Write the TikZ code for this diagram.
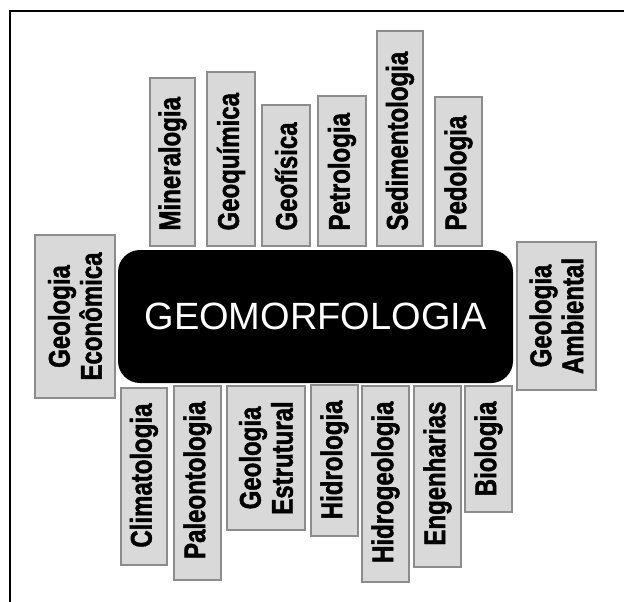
\documentclass[tikz,border=0pt]{standalone}
\usepackage{fontspec}
\setmainfont{Liberation Sans}
\newfontfamily\lblfont[FakeStretch=0.8,FakeBold=1.5]{Liberation Sans Bold}
\usetikzlibrary{fit}
\definecolor{boxfill}{HTML}{D9D9D9}
\definecolor{boxline}{HTML}{8C8C8C}
\begin{document}
\begin{tikzpicture}[x=1pt,y=-1pt,
  box/.style={draw=boxline, fill=boxfill, line width=1.3pt, inner sep=0pt},
  lbl/.style={font=\lblfont\fontsize{30}{32}\selectfont, rotate=90, inner sep=0pt, text=black},
  core/.style={fill=black, rounded corners=22pt, inner sep=0pt},
  corelbl/.style={text=white, font=\fontsize{38}{40}\selectfont, inner sep=0pt}
]
\useasboundingbox[fill=white] (0,0) rectangle (624,602);
\draw[line width=2pt] (9.5,602) -- (9.5,11.5) -- (624,11.5);

% centre
\node[core, fit={(118,250) (513,383)}] (geo) {};
\node[corelbl] (geo-l) at (geo.center) {GEOMORFOLOGIA};

% top boxes
\node[box, fit={(150,78) (195,246)}] (min) {};
\node[lbl, anchor=west] (min-l) at ([yshift=16pt]min.south) {Mineralogia};
\node[box, fit={(207,72) (255,246)}] (gqu) {};
\node[lbl, anchor=west] (gqu-l) at ([yshift=16pt]gqu.south) {Geoquímica};
\node[box, fit={(262,105) (310,246)}] (gfi) {};
\node[lbl, anchor=west] (gfi-l) at ([yshift=16pt]gfi.south) {Geofísica};
\node[box, fit={(318,96) (366,246)}] (pet) {};
\node[lbl, anchor=west] (pet-l) at ([yshift=16pt]pet.south) {Petrologia};
\node[box, fit={(377,31) (423,246)}] (sed) {};
\node[lbl, anchor=west] (sed-l) at ([yshift=16pt]sed.south) {Sedimentologia};
\node[box, fit={(435,97) (482,246)}] (ped) {};
\node[lbl, anchor=west] (ped-l) at ([yshift=16pt]ped.south) {Pedologia};

% side boxes
\node[box, fit={(35,235) (115,398)}] (eco) {};
\node[lbl, align=center] (eco-l) at (eco.center) {Geologia\\Econômica};
\node[box, fit={(517,242) (596,390)}] (amb) {};
\node[lbl, align=center] (amb-l) at (amb.center) {Geologia\\Ambiental};

% bottom boxes
\node[box, fit={(121,388) (167,565)}] (cli) {};
\node[lbl, anchor=east] (cli-l) at ([yshift=-16pt]cli.north) {Climatologia};
\node[box, fit={(174,386) (221,580)}] (pal) {};
\node[lbl, anchor=east] (pal-l) at ([yshift=-16pt]pal.north) {Paleontologia};
\node[box, fit={(227,386) (305,530)}] (est) {};
\node[lbl, align=center] (est-l) at (est.center) {Geologia\\Estrutural};
\node[box, fit={(311,385) (358,536)}] (hid) {};
\node[lbl, anchor=east] (hid-l) at ([yshift=-16pt]hid.north) {Hidrologia};
\node[box, fit={(362,386) (409,582)}] (hig) {};
\node[lbl, anchor=east] (hig-l) at ([yshift=-16pt]hig.north) {Hidrogeologia};
\node[box, fit={(414,386) (461,567)}] (eng) {};
\node[lbl, anchor=east] (eng-l) at ([yshift=-16pt]eng.north) {Engenharias};
\node[box, fit={(465,386) (512,512)}] (bio) {};
\node[lbl, anchor=east] (bio-l) at ([yshift=-16pt]bio.north) {Biologia};
\end{tikzpicture}
\end{document}
